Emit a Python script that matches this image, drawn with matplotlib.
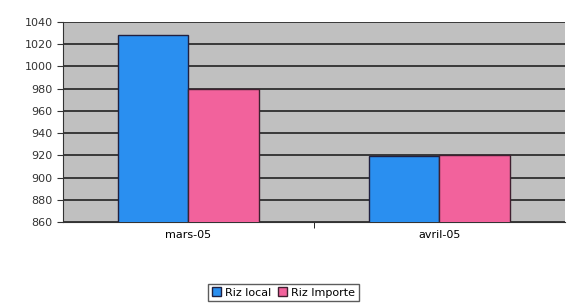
import matplotlib.pyplot as plt
import numpy as np

# Données
mois = ['mars-05', 'avril-05']
riz_local = [1028, 919]
riz_importe = [980, 920]

fig = plt.figure(figsize=(5.67, 3.08), dpi=100)
ax = fig.add_axes([0.111, 0.279, 0.885, 0.65])
ax.set_facecolor('#c0c0c0')

x = np.arange(len(mois))
w = 0.28
ax.bar(x - w / 2, riz_local, w, color='#2a8ff0', edgecolor='#202040', linewidth=1,
       label='Riz local', zorder=3)
ax.bar(x + w / 2, riz_importe, w, color='#f2629c', edgecolor='#402030', linewidth=1,
       label='Riz Importe', zorder=3)

ax.set_ylim(860, 1040)
ax.set_yticks(range(860, 1041, 20))
ax.set_xlim(-0.5, 1.5)
ax.set_xticks(x)
ax.set_xticklabels(mois)
ax.tick_params(axis='x', length=0, labelsize=8, pad=6)
ax.set_xticks([0.5], minor=True)
ax.tick_params(axis='x', which='minor', length=4, direction='out')
ax.tick_params(axis='y', labelsize=8, length=4, direction='out', colors='#333333')
ax.yaxis.grid(True, color='#222222', linewidth=1.2, zorder=0)
ax.set_axisbelow(True)
for s in ['top', 'right']:
    ax.spines[s].set_visible(False)
ax.spines['left'].set_color('#333333')
ax.spines['bottom'].set_color('#333333')

fig.legend(loc='lower center', bbox_to_anchor=(0.5, 0.005), ncol=2, fontsize=8,
           frameon=True, fancybox=False, edgecolor='#333333', handlelength=0.8,
           handleheight=0.8, columnspacing=0.6, handletextpad=0.4, borderpad=0.3)

plt.savefig('out.png')
